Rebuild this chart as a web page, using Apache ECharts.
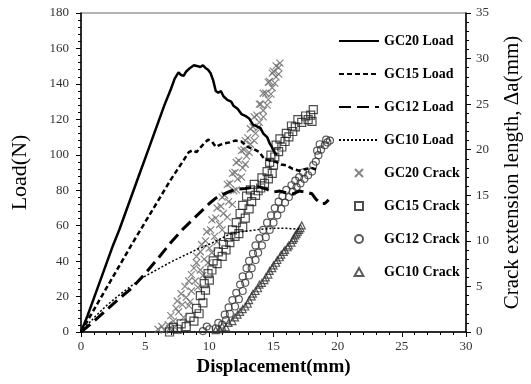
<!DOCTYPE html>
<html>
<head>
<meta charset="utf-8">
<script src="https://cdn.jsdelivr.net/npm/echarts@6/dist/echarts.min.js"></script>
<style>
    html, body { margin: 0; padding: 0; background: #fff; }
    #chart { width: 531px; height: 384px; }
</style>
</head>
<body>
<div id="chart"></div>
<script>
/* load curves: [displacement(mm), load(N)] */
let gc20Load = [
    [0, 0], [0.5, 9], [1, 19], [1.5, 29], [2, 39], [2.5, 49], [3, 58], [3.5, 68], [4, 78], [4.5, 88],
    [5, 98], [5.5, 108], [6, 118], [6.5, 128], [7, 137], [7.3, 143], [7.6, 146.5], [7.8, 145], [8.0, 144.5],
    [8.2, 147], [8.5, 149], [8.8, 150.5], [9.1, 150], [9.3, 149.5], [9.5, 150.5], [9.7, 149], [9.9, 148],
    [10.1, 146], [10.3, 142], [10.5, 136], [10.7, 135], [10.9, 136], [11.1, 133], [11.4, 131], [11.7, 130],
    [11.9, 127.5], [12.2, 126], [12.5, 123], [12.8, 122], [13.1, 120.5], [13.4, 117], [13.7, 116], [14.0, 115],
    [14.2, 112], [14.5, 110], [14.7, 106.5], [14.9, 104], [15.1, 101], [15.3, 100]
];
let gc15Load = [
    [0, 0], [1, 12.5], [2, 25], [3, 37.5], [4, 50], [5, 62], [6, 74], [6.5, 80], [7, 86], [7.5, 91.5],
    [8, 97], [8.4, 101.5], [8.7, 102.5], [9.0, 101.5], [9.3, 104], [9.6, 106.5], [9.9, 108.5], [10.2, 107.5],
    [10.5, 104.5], [10.8, 105.5], [11.2, 106.5], [11.6, 107], [12.0, 108], [12.5, 107.5], [13.0, 104.5],
    [13.5, 103], [13.9, 101.5], [14.3, 97.5], [14.8, 96.5], [15.2, 96], [15.6, 94.5], [16.0, 94], [16.5, 92],
    [17.0, 91], [17.5, 92], [18.0, 92.5], [18.4, 91.5]
];
let gc12Load = [
    [0, 0], [1, 6], [2, 12.5], [3, 19], [4, 25], [5, 33], [6, 41.5], [7, 50.5], [8, 58.5], [9, 65.5],
    [10, 72.5], [10.5, 75.5], [11, 77.5], [11.5, 79], [12, 80.5], [12.8, 81], [13.8, 82], [14.5, 80.5],
    [15, 79], [15.5, 79.5], [16, 78.5], [16.5, 78], [17, 79.5], [17.5, 79], [18, 78], [18.3, 75],
    [18.7, 72.5], [19, 72.5], [19.3, 74.5]
];
let gc10Load = [
    [0, 0], [1, 8], [2, 15], [3, 21], [4, 26.5], [5, 31.5], [6, 35.5], [7, 39.5], [8, 43], [9, 46.5],
    [10, 49.5], [11, 53], [11.5, 55], [12, 56], [13, 57], [14, 58], [15, 58.5], [16, 58.5], [17, 58]
];

/* crack curves: [displacement(mm), crack extension(mm)] */
let gc20Crack = [
    [6.0, 0.3], [6.5, 0.2], [6.8, 0.8], [7.2, 1.2], [7.0, 1.8], [7.6, 2.2], [7.9, 3.0], [7.5, 3.4], [8.2, 3.8],
    [8.6, 4.5], [8.1, 5.0], [8.9, 5.6], [8.6, 6.3], [9.3, 6.8], [9.0, 7.6], [9.6, 8.0], [9.3, 8.8], [10.0, 9.2],
    [9.7, 10.0], [10.4, 10.5], [10.1, 11.2], [10.8, 11.8], [10.5, 12.5], [11.1, 13.0], [10.9, 13.8], [11.5, 14.3],
    [11.2, 15.0], [11.9, 15.5], [11.6, 16.3], [12.2, 16.8], [12.0, 17.5], [12.6, 18.0], [12.3, 18.8], [12.9, 19.3],
    [12.7, 20.0], [13.2, 20.6], [13.0, 21.3], [13.6, 21.8], [13.4, 22.5], [13.9, 23.0], [13.7, 23.8], [14.2, 24.3],
    [14.0, 25.0], [14.6, 25.5], [14.4, 26.2], [14.9, 26.8], [14.7, 27.5], [15.2, 28.0], [15.0, 28.6], [15.4, 29.0],
    [6.3, 0.6], [6.9, 0.4], [7.3, 0.5], [7.4, 2.6], [8.0, 1.6], [8.4, 2.9], [7.8, 4.2], [8.5, 3.3], [8.4, 5.6],
    [9.1, 4.9], [8.8, 7.0], [9.5, 6.2], [9.0, 8.3], [9.9, 7.6], [9.4, 9.6], [10.2, 8.7], [9.8, 11.0], [10.6, 9.9],
    [10.2, 12.3], [11.0, 11.2], [10.6, 13.6], [11.4, 12.6], [11.0, 14.8], [11.8, 14.0], [11.4, 16.2], [12.1, 15.6],
    [11.8, 17.4], [12.5, 17.0], [12.1, 18.6], [12.8, 18.4], [12.5, 19.9], [13.1, 19.7], [12.8, 21.0], [13.5, 21.0],
    [13.2, 22.3], [13.8, 22.4], [13.5, 23.6], [14.2, 23.6], [13.9, 25.0], [14.5, 24.9], [14.2, 26.2], [14.8, 26.1],
    [14.6, 27.4], [15.1, 27.3], [14.9, 28.4], [15.4, 28.3], [15.2, 29.2], [15.5, 29.5]
];
let gc15Crack = [
    [6.9, 0], [7.5, 0.3], [8.2, 0.6], [8.8, 1.2], [9.2, 2.0], [9.5, 3.2], [9.7, 4.6], [10.0, 5.7], [10.2, 6.8],
    [10.6, 7.5], [11.0, 8.3], [11.3, 9.0], [11.6, 9.8], [12.0, 10.5], [12.3, 10.8], [12.6, 11.5], [12.8, 12.5],
    [13.1, 13.5], [13.3, 14.3], [13.6, 15.0], [13.8, 15.5], [14.0, 15.8], [14.3, 16.3], [14.6, 16.8], [14.9, 17.4],
    [15.0, 18.3], [15.1, 19.2], [15.4, 19.8], [15.65, 20.3], [15.9, 20.9], [16.2, 21.4], [16.5, 22.0], [16.7, 22.5],
    [17.2, 23.0], [17.7, 23.3], [17.9, 23.8], [18.1, 24.4],
    [7.2, 0.5], [7.8, 0.9], [8.5, 1.6], [9.0, 2.6], [9.3, 4.0], [9.6, 5.3], [9.9, 6.4], [10.3, 7.8], [10.7, 8.8],
    [11.1, 9.6], [11.5, 10.4], [11.8, 11.2], [12.1, 12.0], [12.4, 13.0], [12.6, 13.9], [12.9, 14.9], [13.2, 15.6],
    [13.5, 16.2], [14.1, 16.9], [14.5, 17.6], [14.7, 18.6], [14.8, 19.4], [15.2, 20.5], [15.5, 21.2], [16.0, 21.8],
    [16.4, 22.6], [16.9, 23.3], [17.5, 23.7], [18.0, 23.1]
];
let gc12Crack = [
    [9.5, 0.1], [10.0, 0.3], [10.5, 0.4], [11.0, 0.8], [11.3, 1.3], [11.6, 2.0], [12.0, 2.8], [12.3, 3.6],
    [12.6, 4.5], [12.8, 5.4], [13.1, 6.2], [13.3, 7.0], [13.6, 7.9], [13.8, 8.7], [14.1, 9.5], [14.4, 10.4],
    [14.7, 11.2], [15.0, 12.0], [15.3, 12.8], [15.6, 13.5], [15.9, 14.2], [16.2, 14.8], [16.5, 15.4], [16.8, 15.9],
    [17.1, 16.3], [17.4, 16.8], [17.7, 17.2], [18.0, 17.6], [18.3, 18.7], [18.5, 19.4], [18.7, 20.0], [19.0, 20.5],
    [19.2, 20.8], [19.4, 21.0],
    [9.8, 0.6], [10.7, 1.0], [11.2, 1.9], [11.5, 2.7], [11.8, 3.5], [12.1, 4.3], [12.4, 5.2], [12.6, 6.1],
    [12.9, 7.0], [13.1, 7.8], [13.4, 8.6], [13.6, 9.5], [13.9, 10.3], [14.2, 11.2], [14.5, 12.0], [14.8, 12.8],
    [15.1, 13.6], [15.4, 14.3], [15.7, 14.9], [16.0, 15.6], [16.4, 16.1], [16.7, 16.6], [17.0, 17.0], [17.3, 17.5],
    [18.1, 18.3], [18.4, 19.9], [18.6, 20.6], [19.1, 21.1]
];
let gc10Crack = [
    [10.5, 0.2], [11.0, 0.6], [11.5, 1.0], [12.0, 1.6], [12.4, 2.2], [12.8, 2.8], [13.1, 3.5], [13.4, 4.2],
    [13.8, 4.8], [14.1, 5.4], [14.4, 6.0], [14.7, 6.7], [15.0, 7.3], [15.3, 7.9], [15.6, 8.5], [15.9, 9.0],
    [16.2, 9.5], [16.5, 10.1], [16.7, 10.6], [16.9, 11.0], [17.1, 11.4], [17.2, 11.7],
    [10.8, 0.3], [11.3, 0.5], [11.8, 1.2], [12.2, 1.9], [12.6, 2.5], [13.0, 3.1], [13.3, 3.9], [13.6, 4.5],
    [13.9, 5.2], [14.3, 5.7], [14.6, 6.3], [14.9, 7.0], [15.2, 7.6], [15.5, 8.2], [15.8, 8.8], [16.1, 9.3],
    [16.4, 9.8], [16.6, 10.3], [16.8, 10.8], [17.0, 11.2]
];

let legendNames = ['GC20 Load', 'GC15 Load', 'GC12 Load', 'GC10 Load',
    'GC20 Crack', 'GC15 Crack', 'GC12 Crack', 'GC10 Crack'];

let serif = "'Liberation Serif', 'Times New Roman', serif";

/* symbols as paths so the legend keeps their aspect */
let crossPath = 'path://M0,0L10,10M10,0L0,10';
let squarePath = 'path://M0,0H10V10H0Z';
let circlePath = 'path://M5,0A5,5,0,1,1,5,10A5,5,0,1,1,5,0Z';
let trianglePath = 'path://M5,0L10,9H0Z';

let lineSeries = function (name, data, type, width) {
    return {
        name: name,
        type: 'line',
        yAxisIndex: 0,
        data: data,
        symbol: 'none',
        showSymbol: false,
        z: 5,
        lineStyle: { color: '#000', width: width, type: type },
        itemStyle: { color: 'transparent', borderWidth: 0 }
    };
};
let crackSeries = function (name, data, symbol, size, color) {
    return {
        name: name,
        type: 'scatter',
        yAxisIndex: 1,
        data: data,
        symbol: symbol,
        symbolSize: size,
        z: 3,
        itemStyle: { color: 'transparent', borderColor: color, borderWidth: 1.2 }
    };
};

let myChart = echarts.init(document.getElementById('chart'));
let options = {
    animation: false,
    backgroundColor: '#fff',
    grid: {
        left: 81, right: 62, top: 13, bottom: 52,
        show: true, borderColor: '#666', borderWidth: 1
    },
    legend: {
        orient: 'vertical',
        left: 333,
        top: 29,
        itemWidth: 40,
        itemHeight: 8,
        itemGap: 19,
        symbolKeepAspect: true,
        data: legendNames,
        textStyle: { fontFamily: serif, fontWeight: 'bold', fontSize: 14, color: '#000' }
    },
    xAxis: {
        type: 'value',
        min: 0, max: 30, interval: 5,
        name: 'Displacement(mm)',
        nameLocation: 'middle',
        nameGap: 25,
        nameTextStyle: { fontFamily: serif, fontWeight: 'bold', fontSize: 19, color: '#000' },
        axisLine: { lineStyle: { color: '#000', width: 1.5 } },
        axisTick: { length: 5, lineStyle: { color: '#000' } },
        minorTick: { show: true, splitNumber: 5, length: 3, lineStyle: { color: '#000' } },
        axisLabel: { fontFamily: serif, fontSize: 13, color: '#333', margin: 8 },
        splitLine: { show: false }
    },
    yAxis: [
        {
            type: 'value',
            position: 'left',
            min: 0, max: 180, interval: 20,
            name: 'Load(N)',
            nameLocation: 'middle',
            nameRotate: 90,
            nameGap: 50,
            nameTextStyle: { fontFamily: serif, fontSize: 22, color: '#000' },
            axisLine: { show: true, lineStyle: { color: '#000', width: 1.5 } },
            axisTick: { show: true, length: 5, lineStyle: { color: '#000' } },
            minorTick: { show: true, splitNumber: 5, length: 3, lineStyle: { color: '#000' } },
            axisLabel: { fontFamily: serif, fontSize: 13, color: '#333', margin: 12 },
            splitLine: { show: false }
        },
        {
            type: 'value',
            position: 'right',
            min: 0, max: 35, interval: 5,
            name: 'Crack extension length, Δa(mm)',
            nameLocation: 'middle',
            nameRotate: 90,
            nameGap: 36,
            nameTextStyle: { fontFamily: serif, fontSize: 21, color: '#000' },
            axisLine: { show: true, lineStyle: { color: '#000', width: 1.5 } },
            axisTick: { show: true, length: 5, lineStyle: { color: '#000' } },
            minorTick: { show: true, splitNumber: 5, length: 3, lineStyle: { color: '#000' } },
            axisLabel: { fontFamily: serif, fontSize: 13, color: '#333', margin: 10 },
            splitLine: { show: false }
        }
    ],
    series: [
        lineSeries('GC20 Load', gc20Load, 'solid', 2.5),
        lineSeries('GC15 Load', gc15Load, [5, 3], 2.5),
        lineSeries('GC12 Load', gc12Load, [12, 6], 3),
        lineSeries('GC10 Load', gc10Load, [2, 2], 1.5),
        crackSeries('GC20 Crack', gc20Crack, crossPath, 7, '#666'),
        crackSeries('GC15 Crack', gc15Crack, squarePath, 8, '#222'),
        crackSeries('GC12 Crack', gc12Crack, circlePath, 7, '#333'),
        crackSeries('GC10 Crack', gc10Crack, trianglePath, 7, '#333')
    ]
};
myChart.setOption(options);
</script>
</body>
</html>
